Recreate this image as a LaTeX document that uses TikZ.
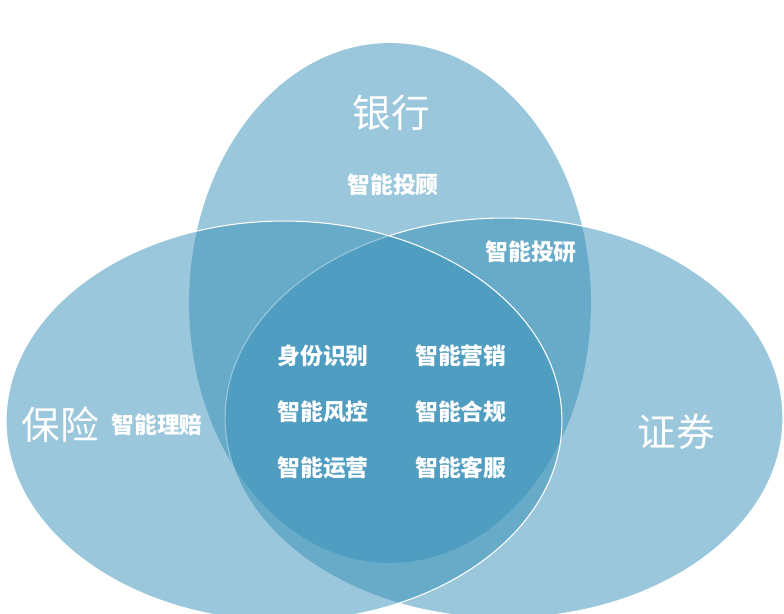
\documentclass[tikz,border=0pt]{standalone}
\usepackage{fontspec}
\newfontfamily\cjk{Noto Sans CJK SC}
\usetikzlibrary{shapes.geometric, positioning}
\definecolor{setblue}{RGB}{55,145,185}

\begin{document}
\begin{tikzpicture}[x=0.02cm, y=-0.02cm, node distance=1.12cm, every node/.style={font=\cjk}]
\tikzstyle{venn} = [ellipse, inner sep=0pt, outer sep=0pt, fill=setblue, fill opacity=0.5]
\tikzstyle{rim} = [draw=white, line width=0.6pt]
\tikzstyle{title} = [text=white, font=\cjk\fontsize{22pt}{22pt}\selectfont]
\tikzstyle{item} = [text=white, font=\cjk\bfseries\fontsize{13pt}{13pt}\selectfont]

\fill[white] (0,0) rectangle (784,613);
\useasboundingbox (0,0) rectangle (784,613);

\node (bankset) [venn, minimum width=8.04cm, minimum height=10.4cm] at (390,303) {};
\node (securset) [venn, rim, minimum width=11.16cm, minimum height=8cm] at (504,418) {};
\node (insureset) [venn, rim, minimum width=11.12cm, minimum height=8cm] at (284,421) {};

\node (bank) [title] at (391,113) {银行};
\node (insure) [title] at (60,425) {保险};
\node (secur) [title] at (676,432) {证券};

\node (tougu) [item] at (393,185) {智能投顾};
\node (touyan) [item] at (531,252) {智能投研};
\node (lipei) [item] at (157,425) {智能理赔};

\node (shenfen) [item] at (323,356) {身份识别};
\node (fengkong) [item, below of=shenfen] {智能风控};
\node (yunying) [item, below of=fengkong] {智能运营};
\node (yingxiao) [item, right of=shenfen, node distance=2.76cm] {智能营销};
\node (hegui) [item, below of=yingxiao] {智能合规};
\node (kefu) [item, below of=hegui] {智能客服};

\end{tikzpicture}
\end{document}
